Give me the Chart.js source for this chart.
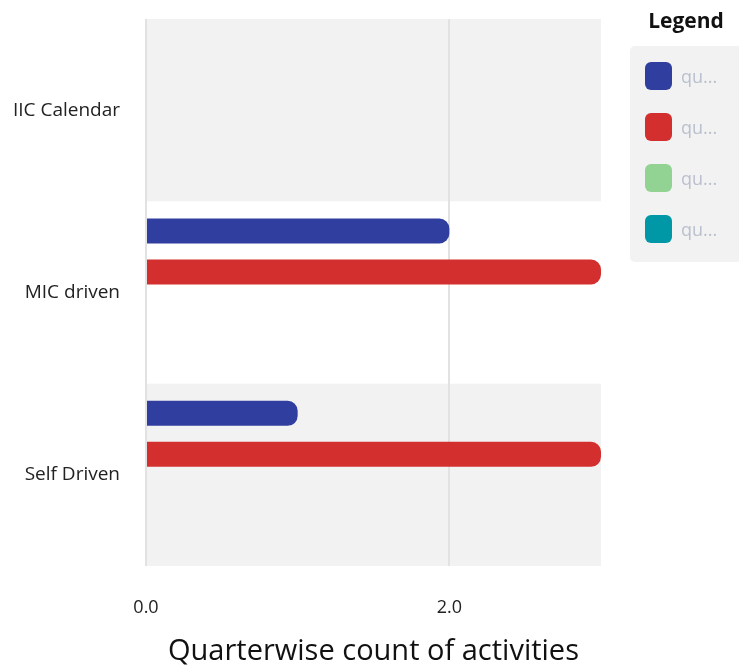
<!DOCTYPE html>
<html>
<head>
<meta charset="utf-8">
<script src="https://cdn.jsdelivr.net/npm/chart.js@4"></script>
<style>
  body { margin: 0; background: #fff; font-family: "Open Sans", sans-serif; }
  #wrap { position: relative; width: 739px; height: 669px; }
  #legendTitle { position: absolute; left: 630px; width: 112px; top: 6px; text-align: center; font-weight: bold; font-size: 21px; color: #111; }
  #legendBox { position: absolute; left: 630px; top: 46px; width: 115px; height: 216px; background: #f2f2f2; border-radius: 5px; }
  .item { position: absolute; left: 15px; height: 28px; display: flex; align-items: center; }
  .sw { width: 27px; height: 28px; border-radius: 6px; margin-right: 9px; }
  .lbl { color: #b9c0cd; font-size: 18px; }
</style>
</head>
<body>
<div id="wrap">
  <canvas id="chart" width="739" height="669"></canvas>
  <div id="legendTitle">Legend</div>
  <div id="legendBox"></div>
</div>
<script>
const categories = ['IIC Calendar', 'MIC driven', 'Self Driven'];
const seriesNames = ['quarter 1', 'quarter 2', 'quarter 3', 'quarter 4'];
const seriesColors = ['#303f9f', '#d32f2f', '#92d394', '#0097a7'];
const q1 = [0, 2, 1];
const q2 = [0, 3, 3];
const q3 = [0, 0, 0];
const q4 = [0, 0, 0];
const xTicks = [0, 2];

const seriesValues = [q1, q2, q3, q4];

// grey bands behind every other category
const bandPlugin = {
    id: 'bands',
    beforeDraw(chart) {
        const ctx = chart.ctx;
        const area = chart.chartArea;
        const step = (area.bottom - area.top) / categories.length;
        ctx.save();
        ctx.fillStyle = '#f2f2f2';
        categories.forEach((c, i) => {
            if (i % 2 === 0) {
                const top = area.top + step * i;
                ctx.fillRect(area.left, top, area.right - area.left, step);
            }
        });
        ctx.restore();
    }
};

const ctx = document.getElementById('chart').getContext('2d');
new Chart(ctx, {
    type: 'bar',
    data: {
        labels: categories,
        datasets: seriesNames.map((name, i) => ({
            label: name,
            data: seriesValues[i],
            backgroundColor: seriesColors[i],
            borderRadius: 10,
            borderSkipped: 'start',
            categoryPercentage: 0.9,
            barPercentage: 0.61
        }))
    },
    options: {
        indexAxis: 'y',
        responsive: false,
        animation: false,
        layout: { padding: { top: 19, right: 138, left: 0, bottom: 0 } },
        plugins: {
            legend: { display: false },
            tooltip: { enabled: false }
        },
        scales: {
            x: {
                min: 0,
                max: 3,
                afterBuildTicks: scale => {
                    scale.ticks = xTicks.map(v => ({ value: v }));
                },
                afterFit: scale => {
                    scale.height = 103;
                    scale.paddingLeft = 0;
                    scale.paddingRight = 0;
                },
                grid: { color: '#e2e2e2', lineWidth: 2, drawTicks: false },
                border: { display: false },
                ticks: {
                    padding: 31,
                    color: '#222',
                    font: { family: 'Open Sans', size: 18 },
                    callback: v => v.toFixed(1)
                },
                title: {
                    display: true,
                    text: 'Quarterwise count of activities',
                    color: '#111',
                    font: { family: 'Open Sans', size: 29 },
                    padding: { top: 0, bottom: 0 }
                }
            },
            y: {
                afterFit: scale => {
                    scale.width = 146;
                    scale.paddingTop = 0;
                    scale.paddingBottom = 0;
                },
                grid: { display: false, drawTicks: false },
                border: { display: false },
                ticks: {
                    padding: 26,
                    color: '#222',
                    font: { family: 'Open Sans', size: 19 }
                }
            }
        }
    },
    plugins: [bandPlugin]
});

// legend on the right, names cut short like the original
const box = document.getElementById('legendBox');
seriesNames.forEach((name, i) => {
    const item = document.createElement('div');
    item.className = 'item';
    item.style.top = (16 + i * 51) + 'px';
    item.innerHTML = '<div class="sw" style="background:' + seriesColors[i] + '"></div>' +
        '<span class="lbl">' + name.slice(0, 2) + '...</span>';
    box.appendChild(item);
});
</script>
</body>
</html>
